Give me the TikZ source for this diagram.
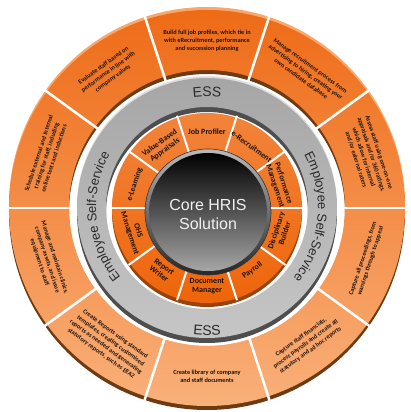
\documentclass[tikz,border=0pt]{standalone}
\usepackage{fontspec}
\setmainfont{Carlito}
\newfontfamily\lsans{Liberation Sans}
\usepackage{xcolor}
\usepackage{tikz}
\usetikzlibrary{decorations.text}

\definecolor{orangetop}{HTML}{EE6B16}
\definecolor{orangemid}{HTML}{F28636}
\definecolor{orangelow}{HTML}{F9B07A}
\definecolor{ringlight}{HTML}{F7A86E}
\definecolor{ringshadow}{HTML}{6E3A12}
\definecolor{coreorange}{HTML}{EE650A}
\definecolor{coreshadow}{HTML}{9A4308}
\definecolor{grayshadow}{HTML}{4E4E4E}
\definecolor{esscol}{HTML}{2A2A2A}
\definecolor{txtdark}{HTML}{1E140C}

\begin{document}
\begin{tikzpicture}[x=1pt,y=1pt,
	outertxt/.style={font=\bfseries\fontsize{6.3}{8}\selectfont,text=txtdark,align=center,inner sep=0pt},
	innertxt/.style={font=\bfseries\fontsize{8}{8.8}\selectfont,text=txtdark,align=center,inner sep=0pt}]
		\useasboundingbox (-207,-204) rectangle (203,208);
		% outer ring with bevel
		\fill[ringlight,even odd rule] (0,3) circle (198pt) (0,0) circle (138pt);
		\fill[ringshadow,even odd rule] (0,-4) circle (198pt) (0,-4) circle (138pt);
		\shade[top color=orangetop,middle color=orangemid,bottom color=orangelow,even odd rule] (0,0) circle (198pt) (0,0) circle (138pt);
		\foreach \a in {0,36,...,324}
			\draw[white,line width=2.5pt] (\a:131) -- (\a:205);
		% ESS ring
		\fill[gray!25,even odd rule] (0,2) circle (130pt) (0,0) circle (101pt);
		\fill[grayshadow,even odd rule] (0,-5) circle (130pt) (0,-5) circle (101pt);
		\shade[top color=gray!70,bottom color=gray!45,even odd rule] (0,0) circle (130pt) (0,0) circle (101pt);
		% inner ring
		\fill[coreshadow,even odd rule] (0,-4) circle (95pt) (0,-4) circle (55pt);
		\shade[top color=coreorange!80!white,middle color=coreorange,bottom color=coreorange,even odd rule] (0,0) circle (95pt) (0,0) circle (55pt);
		\foreach \a in {0,36,...,324}
			\draw[white,line width=2pt] (\a:55) -- (\a:97);
		% core disc
		\shade[top color=gray!55,bottom color=black!85] (1,-4) circle (63pt);
		\shade[top color=black,middle color=black!95,bottom color=gray!70] (1,-4) circle (59pt);
		\draw[black!80,line width=0.6pt] (1,-4) circle (63pt);
		\node[font=\lsans\fontsize{16}{19}\selectfont,text=white!88!gray,align=center] (core) at (1,-6) {Core HRIS\\Solution};
		% ESS labels
		\path[decorate,decoration={text along path,text align=center,text color=esscol,text={|\lsans\fontsize{14}{14}\selectfont|ESS}}] (110:111) arc[start angle=110,end angle=70,radius=111pt];
		\path[decorate,decoration={text along path,text align=center,text color=esscol,text={|\lsans\fontsize{14}{14}\selectfont|ESS}}] (250:127) arc[start angle=250,end angle=290,radius=127pt];
		\path[decorate,decoration={text along path,text align=center,text color=esscol,text={|\lsans\fontsize{13}{13}\selectfont|Employee Self-Service}}] (35:111) arc[start angle=35,end angle=-45,radius=111pt];
		\path[decorate,decoration={text along path,text align=center,text color=esscol,text={|\lsans\fontsize{13}{13}\selectfont|Employee Self-Service}}] (225:111) arc[start angle=225,end angle=145,radius=111pt];
		% inner modules
		\node[innertxt] (jobprof) at (90:76) {Job Profiler};
		\node[innertxt,rotate=-36] (erecruit) at (54:76) {e-Recruitment};
		\node[innertxt,rotate=-72] (perform) at (18:76) {Performance\\Management};
		\node[innertxt,rotate=72] (discip) at (-18:77) {Disciplinary\\Builder};
		\node[innertxt,rotate=36] (payroll) at (-54:77) {Payroll};
		\node[innertxt] (docman) at (-90:78) {Document\\Manager};
		\node[innertxt,rotate=-36] (repwriter) at (-126:77) {Report\\Writer};
		\node[innertxt,rotate=-72] (ohs) at (-162:77) {OHS\\Management};
		\node[innertxt,rotate=72] (elearn) at (162:76) {e-Learning};
		\node[innertxt,rotate=36] (valapp) at (126:76) {Value-Based\\Appraisals};
		% outer descriptions
		\node[outertxt] (build) at (90:167) {Build full job profiles, which tie in\\with eRecruitment, performance\\and succession planning};
		\node[outertxt,rotate=-36] (recruit) at (54:168) {Manage recruitment process from\\advertising to hiring, creating your\\own candidate database};
		\node[outertxt,rotate=-72] (assess) at (18:169) {Assess staff using one-on-one\\appraisals and/or 360 ratings,\\which allow for internal\\and/or external raters};
		\node[outertxt,rotate=72] (proceed) at (-18:168) {Capture all proceedings, from\\warnings through to appeal};
		\node[outertxt,rotate=36] (finance) at (-54:168) {Capture staff financials,\\process payrolls and create all\\statutory and ad hoc reports};
		\node[outertxt] (library) at (-90:168) {Create library of company\\and staff documents};
		\node[outertxt,rotate=-36] (reports) at (-126:168) {Create Reports using standard\\templates, creating customised\\reports as needed and generating\\statutory reports, such as EEA2};
		\node[outertxt,rotate=-72] (assets) at (-162:168) {Manage and maintain clinics,\\company assets, and issue\\equipment to staff};
		\node[outertxt,rotate=72] (training) at (162:169) {Schedule external and internal\\training for staff, including\\online tests and inductions};
		\node[outertxt,rotate=36] (evaluate) at (126:168) {Evaluate staff based on\\performance in line with\\company values};
	\end{tikzpicture}
\end{document}
